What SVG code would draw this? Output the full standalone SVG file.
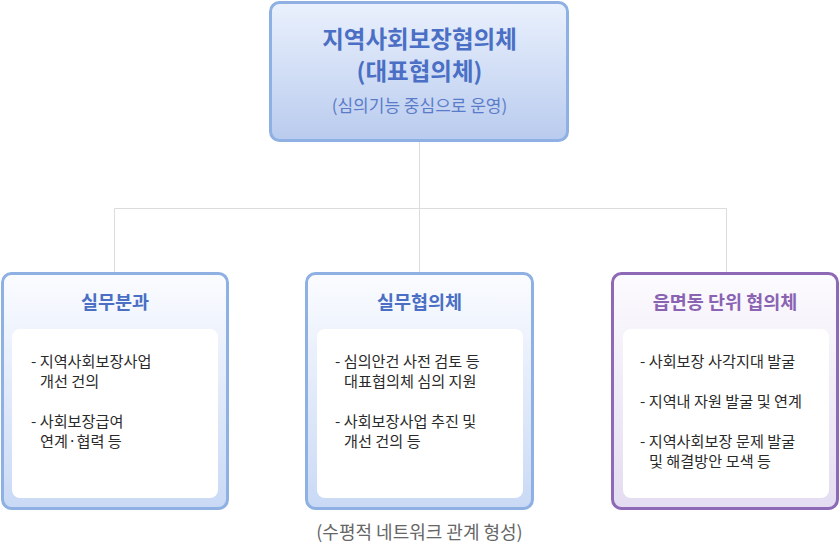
<svg xmlns="http://www.w3.org/2000/svg" width="840" height="545" viewBox="0 0 840 545">
<defs>
<linearGradient id="gTop" x1="0" y1="0" x2="0" y2="1"><stop offset="0" stop-color="#eaf1fd"/><stop offset="1" stop-color="#b9cbee"/></linearGradient>
<linearGradient id="gBlue" x1="0" y1="0" x2="0" y2="1"><stop offset="0" stop-color="#fbfcff"/><stop offset="1" stop-color="#c9d9f5"/></linearGradient>
<linearGradient id="gPurple" x1="0" y1="0" x2="0" y2="1"><stop offset="0" stop-color="#fcfbfe"/><stop offset="1" stop-color="#e4dcf1"/></linearGradient>
<style>
text{font-family:"Noto Sans CJK KR","Noto Sans",sans-serif}
.conn{stroke:#dcdcdc;stroke-width:1;fill:none}
.bb{stroke:#8fb0e2;stroke-width:3}
.pb{stroke:#8d69b6;stroke-width:3}
.inner{fill:#ffffff}
.t1{font-size:23.5px;font-weight:700;fill:#4a6fc4;text-anchor:middle}
.t2{font-size:17px;fill:#5a7cc8;text-anchor:middle}
.h{font-size:18.5px;font-weight:700;fill:#4a6fc4;text-anchor:middle}
.hp{font-size:18.5px;font-weight:700;fill:#8a63b3;text-anchor:middle}
.b{font-size:15.2px;fill:#2a2a2a}
.cap{font-size:18px;fill:#666666;text-anchor:middle}
</style>
</defs>
<g id="connectors">
<path class="conn" d="M419.5 142V273M114.5 208.5H726.5M114.5 208.5V273M726.5 208.5V273"/>
</g>
<g id="top">
<rect x="270.5" y="2.5" width="297" height="138" rx="9" fill="url(#gTop)" class="bb"/>
<text class="t1" x="419.5" y="48">지역사회보장협의체</text>
<text class="t1" x="419.5" y="80">(대표협의체)</text>
<text class="t2" x="419.5" y="112">(심의기능 중심으로 운영)</text>
</g>
<g id="n1">
<rect x="2.5" y="273.5" width="225" height="235" rx="9" fill="url(#gBlue)" class="bb"/>
<rect x="12" y="329" width="206" height="169" rx="8" class="inner"/>
<text class="h" x="115" y="309">실무분과</text>
<text class="b" x="31" y="367">- 지역사회보장사업</text>
<text class="b" x="40" y="387">개선 건의</text>
<text class="b" x="31" y="427">- 사회보장급여</text>
<text class="b" x="40" y="447">연계·협력 등</text>
</g>
<g id="n2">
<rect x="306.5" y="273.5" width="226" height="235" rx="9" fill="url(#gBlue)" class="bb"/>
<rect x="317" y="329" width="206" height="169" rx="8" class="inner"/>
<text class="h" x="419.5" y="309">실무협의체</text>
<text class="b" x="335" y="367">- 심의안건 사전 검토 등</text>
<text class="b" x="344" y="387">대표협의체 심의 지원</text>
<text class="b" x="335" y="427">- 사회보장사업 추진 및</text>
<text class="b" x="344" y="447">개선 건의 등</text>
</g>
<g id="n3">
<rect x="612.5" y="273.5" width="225" height="235" rx="9" fill="url(#gPurple)" class="pb"/>
<rect x="623" y="329" width="206" height="169" rx="8" class="inner"/>
<text class="hp" x="725" y="309">읍면동 단위 협의체</text>
<text class="b" x="640" y="367">- 사회보장 사각지대 발굴</text>
<text class="b" x="640" y="407">- 지역내 자원 발굴 및 연계</text>
<text class="b" x="640" y="447">- 지역사회보장 문제 발굴</text>
<text class="b" x="649" y="467">및 해결방안 모색 등</text>
</g>
<text class="cap" x="419.5" y="539">(수평적 네트워크 관계 형성)</text>
</svg>
